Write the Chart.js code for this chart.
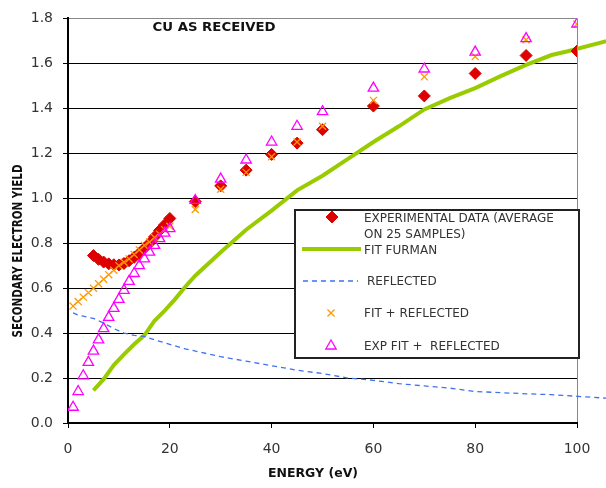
<!DOCTYPE html>
<html>
<head>
<meta charset="utf-8">
<script src="https://cdn.jsdelivr.net/npm/chart.js@4.4.1/dist/chart.umd.min.js"></script>
<style>
  html, body { margin: 0; padding: 0; background: #fff; }
</style>
</head>
<body>
<canvas id="SeyChart" width="606" height="488"></canvas>
<script>
// data

const expEnergy = [5, 6, 7, 8, 9, 10, 11, 12, 13, 14, 15, 16, 17, 18, 19, 20, 25, 30, 35, 40, 45, 50, 60, 70, 80, 90, 100];
const expYield = [0.745, 0.728, 0.716, 0.708, 0.704, 0.703, 0.71, 0.722, 0.737, 0.755, 0.777, 0.80, 0.828, 0.857, 0.882, 0.91,
    0.985, 1.055, 1.125, 1.195, 1.245, 1.305, 1.41, 1.455, 1.555, 1.635, 1.655];

const fitEnergy = [1, 2, 3, 4, 5, 6, 7, 8, 9, 10, 11, 12, 13, 14, 15, 16, 17, 18, 19, 20, 25, 30, 35, 40, 45, 50, 60, 70, 80, 90, 100];
const fitReflYield = [0.52, 0.54, 0.56, 0.58, 0.60, 0.62, 0.64, 0.66, 0.68, 0.70, 0.715, 0.73, 0.75, 0.77, 0.79, 0.805, 0.825, 0.84, 0.86, 0.875,
    0.95, 1.04, 1.115, 1.185, 1.25, 1.32, 1.435, 1.54, 1.63, 1.705, 1.775];
const expFitReflYield = [0.07, 0.14, 0.21, 0.27, 0.32, 0.37, 0.42, 0.47, 0.51, 0.55, 0.59, 0.63, 0.665, 0.70, 0.73, 0.76, 0.79, 0.82, 0.845, 0.865,
    0.99, 1.085, 1.17, 1.25, 1.32, 1.385, 1.49, 1.575, 1.65, 1.71, 1.775];

// the two curves run on past 100 eV, beyond the right edge of the frame
const furmanEnergy = [5, 7, 9, 11, 13, 15, 17, 19, 21, 23, 25, 30, 35, 40, 45, 50, 55, 60, 65, 70, 75, 80, 85, 90, 95, 98, 106];
const furmanYield = [0.145, 0.195, 0.258, 0.305, 0.35, 0.39, 0.455, 0.50, 0.55, 0.605, 0.655, 0.76, 0.86, 0.945, 1.035, 1.10, 1.175, 1.25,
    1.32, 1.395, 1.445, 1.49, 1.543, 1.593, 1.637, 1.653, 1.70];

const reflEnergy = [1, 2, 3, 5, 7, 9, 11, 13, 15, 17, 20, 23, 26, 30, 35, 40, 45, 50, 55, 60, 65, 70, 75, 80, 85, 90, 95, 106];
const reflYield = [0.49, 0.48, 0.475, 0.465, 0.445, 0.42, 0.40, 0.39, 0.385, 0.37, 0.35, 0.33, 0.315, 0.295, 0.275, 0.255, 0.235, 0.22,
    0.20, 0.19, 0.175, 0.165, 0.155, 0.14, 0.135, 0.13, 0.126, 0.11];

const xTicks = [0, 20, 40, 60, 80, 100];
const yTicks = [0, 0.2, 0.4, 0.6, 0.8, 1.0, 1.2, 1.4, 1.6, 1.8];

const pts = (xs, ys) => xs.map((x, i) => ({ x: x, y: ys[i] }));

const RED = '#dd0000';
const GREEN = '#99cc00';
const BLUE = '#3f72f0';
const ORANGE = '#ff9900';
const MAGENTA = '#ff00ff';

// text drawn squeezed to the width it has in the picture

const fitText = (ctx, text, x, y, font, width, rotate) => {
    ctx.save();
    ctx.font = font;
    ctx.textAlign = 'center';
    ctx.textBaseline = 'middle';
    ctx.translate(x, y);
    if (rotate) ctx.rotate(-Math.PI / 2);
    const w = ctx.measureText(text).width;
    ctx.scale(width / w, 1);
    ctx.fillText(text, 0, 0);
    ctx.restore();
}

// legend box, title and axis titles

const extras = {
    id: 'extras',
    afterDraw(chart) {
        const ctx = chart.ctx;
        const draw = Chart.helpers.drawPoint;

        ctx.save();
        ctx.fillStyle = '#111';
        fitText(ctx, 'CU AS RECEIVED', 214, 28, 'bold 13px "DejaVu Sans"', 123);
        fitText(ctx, 'ENERGY (eV)', 313, 474, 'bold 12.5px "DejaVu Sans"', 90);
        fitText(ctx, 'SECONDARY ELECTRON YIELD', 18, 251, 'bold 13.5px "DejaVu Sans"', 173, true);

        // legend
        ctx.fillStyle = '#fff';
        ctx.fillRect(295, 210, 284, 148);
        ctx.strokeStyle = '#222';
        ctx.lineWidth = 2;
        ctx.strokeRect(295, 210, 284, 148);

        ctx.fillStyle = RED;
        ctx.strokeStyle = RED;
        ctx.lineWidth = 1;
        draw(ctx, { pointStyle: 'rectRot', radius: 6, rotation: 0, borderWidth: 1 }, 332, 217);

        ctx.strokeStyle = GREEN;
        ctx.lineWidth = 4;
        ctx.beginPath();
        ctx.moveTo(302, 249);
        ctx.lineTo(361, 249);
        ctx.stroke();

        ctx.strokeStyle = BLUE;
        ctx.lineWidth = 1.3;
        ctx.setLineDash([5, 4]);
        ctx.beginPath();
        ctx.moveTo(303, 281);
        ctx.lineTo(358, 281);
        ctx.stroke();
        ctx.setLineDash([]);

        ctx.fillStyle = 'rgba(0,0,0,0)';
        ctx.strokeStyle = ORANGE;
        ctx.lineWidth = 1.3;
        draw(ctx, { pointStyle: 'crossRot', radius: 5, rotation: 0, borderWidth: 1.3 }, 331, 313);
        ctx.strokeStyle = MAGENTA;
        draw(ctx, { pointStyle: 'triangle', radius: 6, rotation: 0, borderWidth: 1.3 }, 331, 346);

        ctx.fillStyle = '#333';
        ctx.font = '12px "DejaVu Sans"';
        ctx.textAlign = 'left';
        ctx.textBaseline = 'middle';
        ctx.fillText('EXPERIMENTAL DATA (AVERAGE', 364, 219);
        ctx.fillText('ON 25 SAMPLES)', 364, 235);
        ctx.fillText('FIT FURMAN', 364, 251);
        ctx.fillText('REFLECTED', 367, 282);
        ctx.fillText('FIT + REFLECTED', 364, 314);
        ctx.fillText('EXP FIT +  REFLECTED', 364, 347);
        ctx.restore();
    }
};

const ctx = document.getElementById('SeyChart').getContext('2d');

const SeyChart = new Chart(ctx, {
    type: 'scatter',
    data: {
        datasets: [{
            label: 'EXP FIT +  REFLECTED',
            data: pts(fitEnergy, expFitReflYield),
            pointStyle: 'triangle',
            pointRadius: 6,
            borderColor: MAGENTA,
            backgroundColor: 'rgba(0,0,0,0)',
            borderWidth: 1.3
        },
        {
            label: 'FIT + REFLECTED',
            data: pts(fitEnergy, fitReflYield),
            pointStyle: 'crossRot',
            pointRadius: 5,
            borderColor: ORANGE,
            backgroundColor: ORANGE,
            borderWidth: 1.3
        },
        {
            label: 'EXPERIMENTAL DATA',
            data: pts(expEnergy, expYield),
            pointStyle: 'rectRot',
            pointRadius: 6,
            borderColor: RED,
            backgroundColor: RED,
            borderWidth: 1
        },
        {
            label: 'REFLECTED',
            data: pts(reflEnergy, reflYield),
            showLine: true,
            pointRadius: 0,
            borderColor: BLUE,
            borderWidth: 1.3,
            borderDash: [5, 4],
            clip: false
        },
        {
            label: 'FIT FURMAN',
            data: pts(furmanEnergy, furmanYield),
            showLine: true,
            pointRadius: 0,
            borderColor: GREEN,
            borderWidth: 4,
            clip: false
        }]
    },
    options: {
        responsive: false,
        animation: false,
        layout: {
            padding: { top: 6, right: 29, left: 0, bottom: 0 }
        },
        plugins: {
            legend: { display: false },
            tooltip: { enabled: false }
        },
        scales: {
            x: {
                type: 'linear',
                min: xTicks[0],
                max: xTicks[xTicks.length - 1],
                afterFit: (scale) => { scale.height = 65; },
                afterBuildTicks: (scale) => { scale.ticks = xTicks.map(v => ({ value: v })); },
                ticks: {
                    color: '#333',
                    font: { family: 'DejaVu Sans', size: 14 },
                    padding: 13,
                    maxRotation: 0
                },
                grid: {
                    color: (c) => (c.tick && c.tick.value === 100) ? '#888' : 'rgba(0,0,0,0)',
                    tickColor: '#000',
                    tickLength: 5,
                    lineWidth: 1
                },
                border: { color: '#000', width: 2 }
            },
            y: {
                min: yTicks[0],
                max: yTicks[yTicks.length - 1],
                afterFit: (scale) => { scale.width = 68; },
                afterBuildTicks: (scale) => { scale.ticks = yTicks.map(v => ({ value: v })); },
                ticks: {
                    color: '#333',
                    font: { family: 'DejaVu Sans', size: 14 },
                    padding: 10,
                    callback: (value) => value.toFixed(1)
                },
                grid: {
                    color: (c) => (c.tick && Math.abs(c.tick.value - 1.8) < 1e-6) ? '#888' : '#000',
                    tickColor: '#000',
                    tickLength: 5,
                    lineWidth: 1
                },
                border: { color: '#000', width: 2 }
            }
        }
    },
    plugins: [extras]
});
</script>
</body>
</html>
